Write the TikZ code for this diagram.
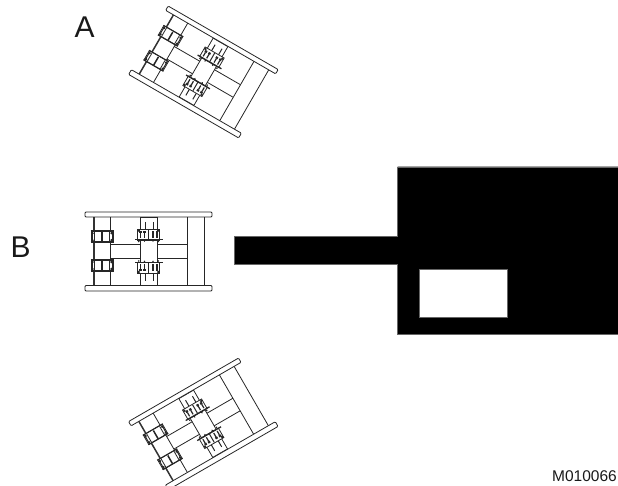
\documentclass[tikz,border=0pt]{standalone}
\usepackage{fontspec}
\setmainfont{Liberation Sans}
\tikzset{
  x=1pt,y=-1pt,
  thin line/.style={line width=0.8pt,draw=black!85},
  heavy line/.style={line width=1.5pt,draw=black!80},
  solid black/.style={fill=black,draw=black!60,line width=0.3pt},
  bar/.style={thin line,fill=white,rounded corners=1pt},
  label text/.style={font=\fontsize{30}{30}\selectfont,inner sep=0pt,text=black!90},
  code text/.style={font=\fontsize{15.5}{15.5}\selectfont,inner sep=0pt,text=black!90},
}
\newcommand{\sideclamp}{%
  \draw[thin line,fill=white] (-11,-5.5) rectangle (11,5.5);
  \draw[line width=1pt,black!85] (-11.5,-5.7) -- (11.5,-5.7);
  \draw[line width=1pt,black!85] (-11.5,5.2) -- (11.5,5.2);
  \draw[line width=1.5pt,black!85] (0,-4.5) -- (0,5);
  \draw[thin line] (-7.5,-5) -- (-7.5,5) (7.5,-5) -- (7.5,5);
  \draw[line width=1pt,black!85] (-10,-5) -- (-10,5) (10,-5) -- (10,5);
  \foreach \sx in {-9.5,9.5}{
    \fill[black!85] (\sx,-3.5) circle (1.3);
    \fill[black!85] (\sx,3.5) circle (1.3);
  }
}
\newcommand{\midclamp}{%
  \draw[line width=1pt,black!85] (-3.5,-12.5) -- (-3.5,-5.5) (4.5,-12.5) -- (4.5,-5.5);
  \draw[thin line,fill=white] (-11,-5.5) rectangle (11,5.5);
  \draw[line width=1.3pt,black!85] (-13.5,5.2) -- (14,5.2);
  \draw[line width=1pt,black!85] (0.3,-5) -- (0.3,5);
  \foreach \sx in {-8,-4,4.5,8.5}{
    \fill[black!85] (\sx-1.2,-3.2) rectangle (\sx+1.2,-1);
    \fill[black!85] (\sx-0.6,-1) rectangle (\sx+0.6,3.5);
  }
  \foreach \sx in {-9.8,9.8}{
    \fill[black!85] (\sx,-4) circle (1.4);
    \fill[black!85] (\sx,7) circle (0.9);
  }
  \foreach \sx in {-4,4.5}{
    \fill[black!85] (\sx,7.5) -- (\sx-1.3,5.5) -- (\sx+1.3,5.5) -- cycle;
  }
}
\newcommand{\pressframe}{%
  \draw[thin line] (-38,-34.5) -- (-38,34) (-8.5,-34.5) -- (-8.5,34)
    (8.5,-34.5) -- (8.5,34) (38.5,-34.5) -- (38.5,34) (55.5,-34.5) -- (55.5,34);
  \draw[thin line] (-38,-7.5) -- (-8.5,-7.5) (-38,7) -- (-8.5,7)
    (8.5,-7.5) -- (38.5,-7.5) (8.5,7) -- (38.5,7);
  \draw[thin line] (-8.5,-34.2) -- (8.5,-34.2) (-8.5,33.7) -- (8.5,33.7);
  \draw[heavy line] (-54.5,-34.5) -- (-54.5,34);
  \draw[bar] (-63.5,-39.5) rectangle (63.5,-34.5);
  \draw[bar] (-63.5,34) rectangle (63.5,39.5);
  \begin{scope}[shift={(-46.5,-14.8)}]\sideclamp\end{scope}
  \begin{scope}[shift={(-46.5,14)}]\sideclamp\end{scope}
  \begin{scope}[shift={(0,-17)}]\midclamp\end{scope}
  \begin{scope}[shift={(0,16.5)},yscale=-1]\midclamp\end{scope}
}
\begin{document}
\begin{tikzpicture}
\useasboundingbox (0,0) rectangle (618,486);
\begin{scope}
\clip (0,0) rectangle (618,486);
\begin{scope}[shift={(203.4,72)},rotate=-30]\pressframe\end{scope}
\begin{scope}[shift={(148.5,251.5)}]\pressframe\end{scope}
\begin{scope}[shift={(203.3,424)},rotate=30]\pressframe\end{scope}
\end{scope}
\draw[solid black] (234,236.3) -- (397.5,236.3) -- (397.5,166.7) -- (618,166.7)
  -- (618,334.3) -- (397.5,334.3) -- (397.5,264.3) -- (234,264.3) -- cycle;
\draw[fill=white,draw=black!60,line width=0.3pt] (419.3,269.3) rectangle (507.3,316.7);
\node[label text,anchor=base west] (labelA) at (74.5,38) {A};
\node[label text,anchor=base west] (labelB) at (10.5,258) {B};
\node[code text,anchor=base east] (code) at (617,481) {M010066};
\end{tikzpicture}
\end{document}
